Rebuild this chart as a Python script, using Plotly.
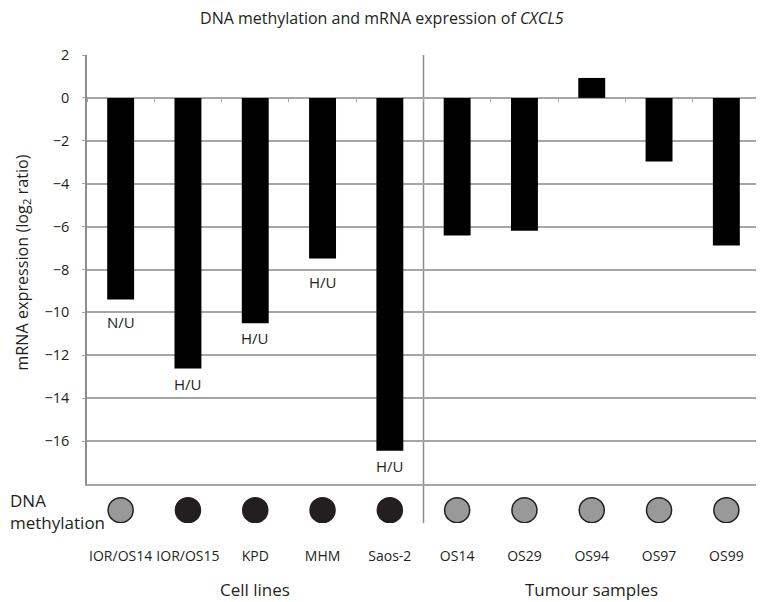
import plotly.graph_objects as go

categories = ["IOR/OS14", "IOR/OS15", "KPD", "MHM", "Saos-2",
              "OS14", "OS29", "OS94", "OS97", "OS99"]
mrna_log2 = [-9.40, -12.62, -10.51, -7.49, -16.45,
             -6.42, -6.19, 0.93, -2.97, -6.88]
bar_labels = ["N/U", "H/U", "H/U", "H/U", "H/U", "", "", "", "", ""]
methylated = [False, True, True, True, True, False, False, False, False, False]
groups = ["Cell lines", "Tumour samples"]
y_ticks = [2, 0, -2, -4, -6, -8, -10, -12, -14, -16]

FONT = "Open Sans"
TXT = "#231f20"
GRID = "#a6a6a6"
AXIS = "#8c8c8c"

# the page body adds an 8px margin; size the figure to fit the window
OFF = 8
W, H = 764 - OFF, 602 - OFF
plot_left, plot_right = 87.3 - OFF, 760 - OFF
plot_top, plot_bottom = 55 - OFF, 523 - OFF
L, R, T, B = plot_left, W - plot_right, plot_top, H - plot_bottom
plot_w = plot_right - plot_left
plot_h = plot_bottom - plot_top


def px(x):
    return (x - OFF - plot_left) / plot_w


def py(y):
    return (plot_bottom - (y - OFF)) / plot_h


y_dom_bottom = py(484)

fig = go.Figure()

fig.add_trace(go.Bar(
    x=categories, y=mrna_log2, marker=dict(color="#000000", line=dict(width=0)),
    width=0.4, xaxis="x", yaxis="y", showlegend=False, hoverinfo="x+y",
))

fig.add_trace(go.Scatter(
    x=categories, y=[0.33] * len(categories), mode="markers",
    marker=dict(size=25,
                color=["#231f20" if m else "#999999" for m in methylated],
                line=dict(color="#231f20", width=1.5)),
    xaxis="x", yaxis="y2", showlegend=False, hoverinfo="x",
))

# zero axis with tick marks between categories
fig.add_trace(go.Scatter(x=categories, y=[None] * len(categories),
                         xaxis="x2", yaxis="y", showlegend=False,
                         hoverinfo="skip"))

annotations = []
shifts = [-22, -15, -15, -23, -15, 0, 0, 0, 0, 0]
for c, v, lab, s in zip(categories, mrna_log2, bar_labels, shifts):
    if lab:
        annotations.append(dict(x=c, y=v, xref="x", yref="y", text=lab,
                                showarrow=False, yanchor="middle", yshift=s,
                                font=dict(family=FONT, size=15, color=TXT)))

annotations.append(dict(x=2, y=py(589), xref="x", yref="paper", text=groups[0],
                        showarrow=False, yanchor="middle",
                        font=dict(family=FONT, size=17, color=TXT)))
annotations.append(dict(x=7, y=py(589), xref="x", yref="paper", text=groups[1],
                        showarrow=False, yanchor="middle",
                        font=dict(family=FONT, size=17, color=TXT)))
annotations.append(dict(x=px(OFF + 0.5), y=py(511.5),
                        xref="paper", yref="paper", text="DNA<br>methylation",
                        align="left", xanchor="left", yanchor="middle",
                        showarrow=False,
                        font=dict(family=FONT, size=17, color=TXT)))
annotations.append(dict(x=px(22), y=py(263),
                        xref="paper", yref="paper",
                        text="mRNA expression (log<sub>2</sub> ratio)",
                        textangle=-90, showarrow=False,
                        xanchor="center", yanchor="middle",
                        font=dict(family=FONT, size=16.2, color=TXT)))

shapes = [
    dict(type="line", xref="x", yref="paper", x0=4.5, x1=4.5, y0=0, y1=1,
         line=dict(color=AXIS, width=1.5), layer="below"),
]

fig.update_layout(
    width=W, height=H,
    margin=dict(l=L, r=R, t=T, b=B, pad=0, autoexpand=False),
    paper_bgcolor="white", plot_bgcolor="white",
    title=dict(text="DNA methylation and mRNA expression of <i>CXCL5</i>",
               x=px(382), xref="paper", xanchor="center",
               y=1 - (18.5 - OFF) / H, yref="container", yanchor="middle",
               automargin=False,
               font=dict(family=FONT, size=16, color=TXT)),
    xaxis=dict(type="category", range=[-0.5, 9.5], anchor="y",
               showline=True, linecolor=GRID, linewidth=1.5,
               showgrid=False, ticks="", ticklabelstandoff=58,
               automargin=False,
               tickfont=dict(family=FONT, size=14, color=TXT)),
    xaxis2=dict(type="category", range=[-0.5, 9.5], overlaying="x",
                anchor="free", position=py(97.6),
                showline=True, linecolor=GRID, linewidth=1.5, layer="below traces",
                showgrid=False, ticks="outside", tickson="boundaries",
                ticklen=4, tickcolor=GRID, tickwidth=1, automargin=False,
                showticklabels=False, side="bottom"),
    yaxis=dict(domain=[y_dom_bottom, 1], range=[-18, 2], tickvals=y_ticks,
               showline=True, linecolor=AXIS, linewidth=1.5,
               showgrid=True, gridcolor=GRID, gridwidth=1.5,
               zeroline=False, ticks="outside", ticklen=3, tickcolor=GRID,
               ticklabelstandoff=10, automargin=False,
               tickfont=dict(family=FONT, size=14.5, color=TXT),
               layer="below traces"),
    yaxis2=dict(domain=[0, y_dom_bottom], range=[0, 1], anchor="x",
                visible=False, fixedrange=True),
    annotations=annotations,
    shapes=shapes,
    bargap=0.6,
)

fig.write_html("out.html")
